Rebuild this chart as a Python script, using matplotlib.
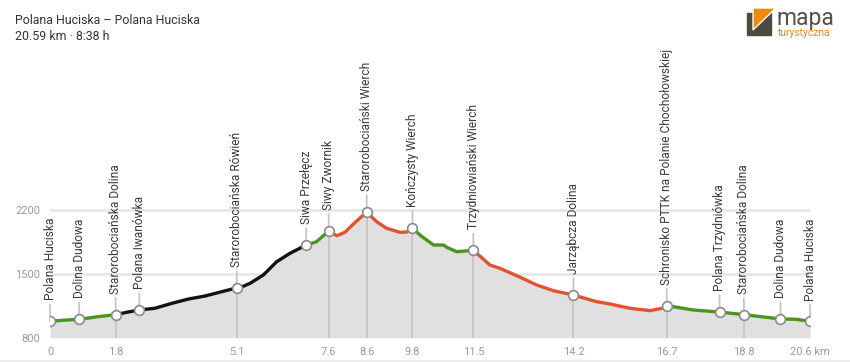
import matplotlib.pyplot as plt
import numpy as np
from matplotlib.patches import Polygon, Rectangle

# Elevation profile (km, m a.s.l.)
dist = [0.00, 0.40, 0.79, 1.30, 1.78, 2.10, 2.42, 2.84, 3.30, 3.75, 4.20, 4.65,
        5.06, 5.25, 5.42, 5.78, 6.14, 6.50, 6.94, 7.22, 7.55, 7.77, 7.99, 8.22,
        8.58, 8.85, 9.12, 9.48, 9.66, 9.82, 10.02, 10.39, 10.66, 10.75, 11.02,
        11.47, 11.92, 12.19, 12.74, 13.19, 13.64, 14.18, 14.81, 15.17, 15.71,
        16.26, 16.62, 16.71, 16.80, 17.43, 18.14, 18.80, 19.79, 20.23, 20.59]
elev = [980, 992, 1001, 1030, 1052, 1080, 1103, 1122, 1176, 1223, 1256, 1303,
        1345, 1365, 1395, 1486, 1631, 1723, 1814, 1850, 1967, 1916, 1953, 2044,
        2175, 2069, 1997, 1953, 1956, 2003, 1924, 1814, 1814, 1789, 1741,
        1756, 1595, 1559, 1461, 1376, 1314, 1267, 1194, 1169, 1122,
        1096, 1125, 1150, 1145, 1103, 1081, 1052, 1005, 1001, 979]

# Trail colour sections
seg_start = [0.00, 1.78, 6.94, 7.55, 9.82, 11.47, 16.62, 16.80]
seg_end = [1.78, 6.94, 7.55, 9.82, 11.47, 16.62, 16.80, 20.59]
seg_color = ['#4a951f', '#111111', '#4a951f', '#e2532f', '#4a951f', '#e2532f', '#f2d21b', '#4a951f']

# Waypoints
wp_names = ['Polana Huciska', 'Dolina Dudowa', 'Starorobociańska Dolina', 'Polana Iwanówka',
            'Starorobociańska Rówień', 'Siwa Przełęcz', 'Siwy Zwornik', 'Starorobociański Wierch',
            'Kończysty Wierch', 'Trzydniowiański Wierch', 'Jarząbcza Dolina',
            'Schronisko PTTK na Polanie Chochołowskiej', 'Polana Trzydniówka',
            'Starorobociańska Dolina', 'Dolina Dudowa', 'Polana Huciska']
wp_km = [0.00, 0.79, 1.78, 2.42, 5.06, 6.94, 7.55, 8.58, 9.82, 11.47, 14.18, 16.71, 18.14, 18.80, 19.79, 20.59]
wp_elev = [980, 1001, 1052, 1103, 1345, 1814, 1967, 2175, 2003, 1756, 1267, 1150, 1081, 1052, 1005, 979]

tick_km = [0.00, 1.78, 5.06, 7.55, 8.58, 9.82, 11.47, 14.18, 16.71, 18.80, 20.59]
tick_labels = ['0', '1.8', '5.1', '7.6', '8.6', '9.8', '11.5', '14.2', '16.7', '18.8', '20.6 km']

plt.rcParams['font.family'] = ['Roboto', 'DejaVu Sans']

fig = plt.figure(figsize=(8.5, 3.62), dpi=100)
ax = fig.add_axes([50 / 850, 24.3 / 362, 760 / 850, 297.7 / 362])

d = np.array(dist)
e = np.array(elev)

# horizontal grid
for g in [1500, 2200]:
    ax.axhline(g, color='#e9e9e9', lw=2, zorder=0)

ax.fill_between(d, e, 800, color='#e0e0e0', lw=0, zorder=1)
for g in [1500, 2200]:
    ax.plot([0, 20.59], [g, g], color='#e6e6e6', lw=1.5, alpha=0.6, zorder=1.5)

# vertical grid lines at ticks
for k in tick_km[1:-1]:
    i = wp_km.index(k)
    ax.plot([k, k], [800, wp_elev[i]], color='#c6c6c6', lw=1.3, zorder=2)

# coloured profile
for a, b, c in zip(seg_start, seg_end, seg_color):
    m = (d >= a) & (d <= b)
    ax.plot(d[m], e[m], color=c, lw=2.4, solid_capstyle='round', zorder=3)

# waypoints, stems and labels
for name, k, h in zip(wp_names, wp_km, wp_elev):
    ax.annotate(name, (k, h), xytext=(0, 15), textcoords='offset points',
                rotation=90, ha='center', va='bottom', fontsize=8.6, color='#3a3a3a',
                annotation_clip=False, zorder=2,
                arrowprops=dict(arrowstyle='-', color='#c6c6c6', lw=1.3,
                                shrinkA=1, shrinkB=0, relpos=(0.5, 0)))
ax.plot(wp_km, wp_elev, 'o', ms=7, mfc='white', mec='#8a8a8a', mew=1.2, zorder=5)

ax.set_xlim(0, 20.59)
ax.set_ylim(800, 4057)
ax.set_xticks(tick_km)
ax.set_xticklabels(tick_labels)
ax.set_yticks([800, 1500, 2200])
ax.tick_params(length=0, labelsize=8, labelcolor='#9a9a9a', pad=7)
for s in ax.spines.values():
    s.set_visible(False)

# header
fig.text(15 / 850, 1 - 20 / 362, 'Polana Huciska – Polana Huciska', fontsize=8.9,
         color='#333333', va='center')
fig.text(15 / 850, 1 - 37 / 362, '20.59 km · 8:38 h', fontsize=8.9,
         color='#333333', va='center')

# logo
def px(x, y):
    return (x / 850, 1 - y / 362)

fig.patches.append(Rectangle(px(747, 35), 24 / 850, 22 / 362, color='#4d4a3f',
                             transform=fig.transFigure, figure=fig))
fig.patches.append(Polygon([px(753, 8), px(776, 8), px(753, 30)], closed=True,
                           facecolor='#ee8a12', edgecolor='white', lw=1,
                           transform=fig.transFigure, figure=fig))
fig.text(777 / 850, 1 - 18 / 362, 'mapa', fontsize=16.5, color='#55524a', va='center')
fig.text(778 / 850, 1 - 33 / 362, 'turystyczna', fontsize=7.4, color='#e8891e', va='center')

fig.add_artist(plt.Line2D([0, 1], [1 / 362, 1 / 362], color='#ececec', lw=2,
                          transform=fig.transFigure))

fig.savefig('out.png', dpi=100)
